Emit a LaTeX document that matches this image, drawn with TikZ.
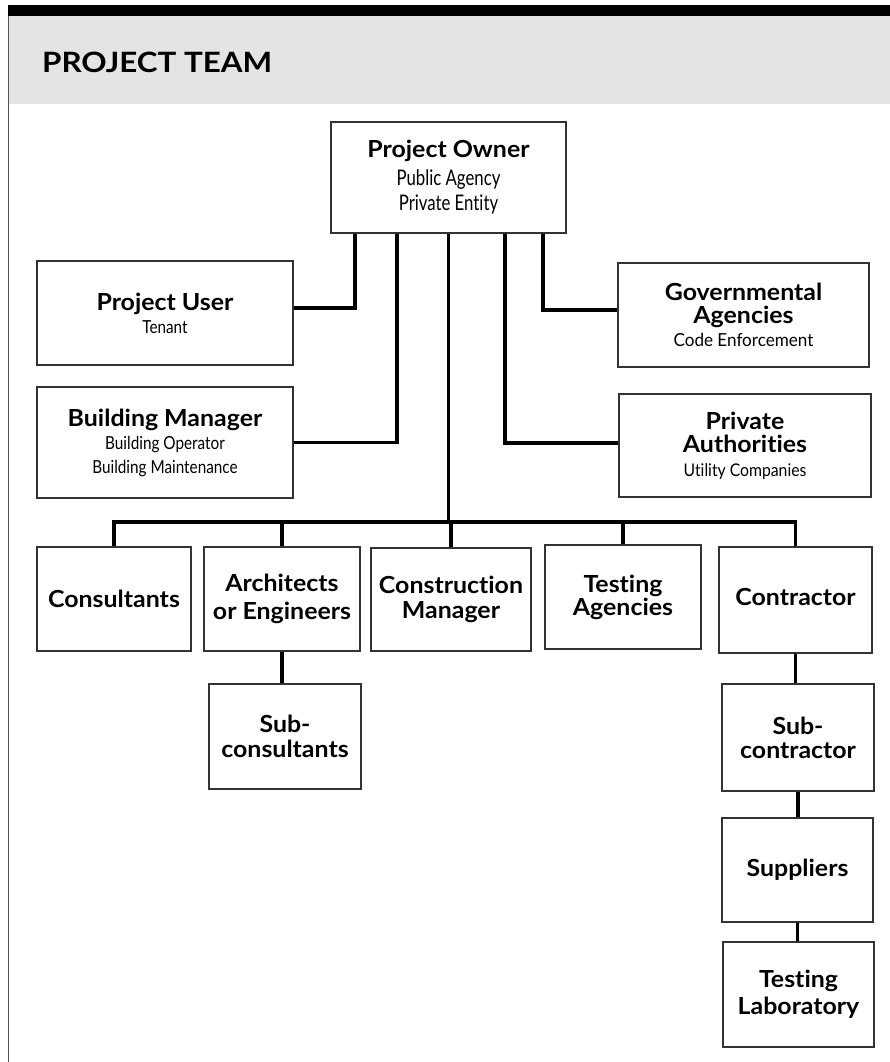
\documentclass[tikz,border=0pt]{standalone}
\usepackage{fontspec}
\setmainfont{Lato}[FakeStretch=1.06,Ligatures=NoCommon]
\newfontfamily\ttl{Lato}[FakeStretch=1.12,Ligatures=NoCommon]
\newfontfamily\cnd{Lato}[FakeStretch=0.78,Ligatures=NoCommon]
\newfontfamily\cndm{Lato}[FakeStretch=0.85,Ligatures=NoCommon]
\newfontfamily\cndw{Lato}[FakeStretch=0.9,Ligatures=NoCommon]
\newfontfamily\cndx{Lato}[FakeStretch=0.95,Ligatures=NoCommon]
\definecolor{boxgray}{HTML}{333333}
\definecolor{band}{HTML}{E4E4E4}
\definecolor{edge}{HTML}{555555}
\begin{document}
\begin{tikzpicture}[x=1pt,y=-1pt,
  box/.style={draw=boxgray, line width=1.5pt, fill=white, inner sep=0pt, align=center},
  conn/.style={line width=3.3pt, black},
  bt/.style={font=\fontsize{23.5}{#1}\selectfont\bfseries}]
\useasboundingbox (0,0) rectangle (890,1062);
\fill[white] (0,0) rectangle (890,1062);
\fill[black] (8,5) rectangle (890,16);
\fill[band] (8,16) rectangle (890,104);
\draw[edge, line width=1.5pt] (8.7,16) -- (8.7,1062);
\node[anchor=base west, inner sep=0pt, font=\ttl\fontsize{28}{28}\selectfont\bfseries] (title) at (42,73) {PROJECT TEAM};
% upper boxes
\node[box, font=\fontsize{21.5}{25}\selectfont, minimum width=235pt, minimum height=111pt] (owner) at (448.5,177.5)
  {{\fontsize{23.5}{25}\selectfont\bfseries Project Owner}\\[3pt]
   {\cnd Public Agency}\\
   {\cnd Private Entity}};
\node[box, font=\fontsize{18}{23}\selectfont, minimum width=256pt, minimum height=104pt] (user) at (165,313)
  {{\fontsize{23.5}{23}\selectfont\bfseries Project User}\\
   {\cndm Tenant}};
\node[box, font=\fontsize{18}{23.5}\selectfont, minimum width=256pt, minimum height=111pt] (bm) at (165,442.5)
  {{\fontsize{23.5}{23.5}\selectfont\bfseries Building Manager}\\
   {\cndm Building Operator}\\
   {\cndm Building Maintenance}};
\node[box, font=\fontsize{23.5}{22.5}\selectfont, minimum width=251pt, minimum height=104pt] (gov) at (743.5,315)
  {{\bfseries Governmental}\\
   {\bfseries Agencies}\\[1pt]
   {\cndx\fontsize{18}{20}\selectfont Code Enforcement}};
\node[box, font=\fontsize{23.5}{23.5}\selectfont, minimum width=252pt, minimum height=103pt] (priv) at (745,445.5)
  {{\bfseries Private}\\
   {\bfseries Authorities}\\
   {\cndw\fontsize{17.5}{20}\selectfont Utility Companies}};
% lower row
\node[box, bt=27, minimum width=154pt, minimum height=104pt] (cons) at (114,599) {Consultants};
\node[box, bt=28, minimum width=156pt, minimum height=104pt] (arch) at (282,599) {Architects\\or Engineers};
\node[box, bt=25, minimum width=160pt, minimum height=103pt] (cm) at (451,599.5) {Construction\\Manager};
\node[box, bt=23, minimum width=156pt, minimum height=104pt] (ta) at (623,597) {Testing\\Agencies};
\node[box, bt=27, minimum width=153pt, minimum height=106pt] (contr) at (795.5,600) {\raisebox{6pt}{Contractor}};
\node[box, bt=25, minimum width=152pt, minimum height=105pt] (subc) at (285,736.5) {Sub-\\consultants};
\node[box, bt=24, minimum width=152pt, minimum height=107pt] (subk) at (798,737.5) {Sub-\\contractor};
\node[box, bt=27, minimum width=151pt, minimum height=104pt] (sup) at (797.5,870) {Suppliers};
\node[box, bt=27, minimum width=151pt, minimum height=105pt] (tl) at (798.5,994.5) {Testing\\Laboratory};
% connectors
\coordinate (bus) at (448.5,522);
\draw[conn] ([xshift=-93.5pt]owner.south) |- ([yshift=5pt]user.east);
\draw[conn] ([xshift=-51.5pt]owner.south) |- (bm.east);
\draw[conn] ([xshift=94.5pt]owner.south) |- ([yshift=5pt]gov.west);
\draw[conn] ([xshift=56.5pt]owner.south) |- ([yshift=2.5pt]priv.west);
\draw[conn] (owner.south) -- (bus);
\draw[conn] (cons.north) |- (bus) -| (contr.north);
\draw[conn] (arch.north) -- (arch.north |- bus);
\draw[conn] (cm.north) -- (cm.north |- bus);
\draw[conn] (ta.north) -- (ta.north |- bus);
\draw[conn] (arch.south) -- (arch.south |- subc.north);
\draw[conn] (contr.south) -- (contr.south |- subk.north);
\draw[conn] (subk.south) -- (subk.south |- sup.north);
\draw[conn] (sup.south) -- (sup.south |- tl.north);
\end{tikzpicture}
\end{document}
